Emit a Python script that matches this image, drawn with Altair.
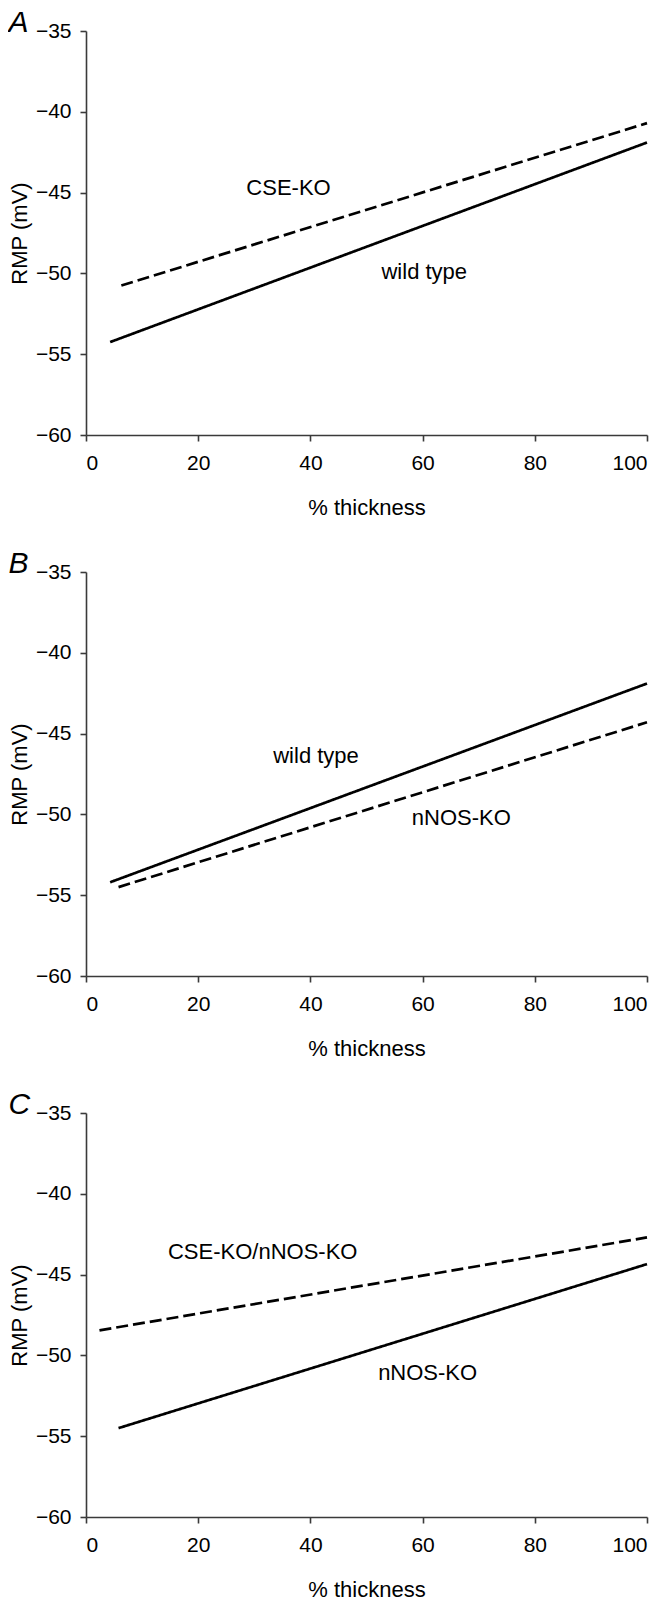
import altair as alt
import pandas as pd

# ---- data ----
panel_letters = ["A", "B", "C"]

# each series: two end points of a straight fitted line (x = % thickness, y = RMP mV)
a_series = ["wild type", "CSE-KO"]
a_x = [[4.3, 100], [6.3, 100]]
a_y = [[-54.25, -41.9], [-50.75, -40.7]]
a_dash = ["solid", "dashed"]
a_label_x = [60.3, 36.1]
a_label_y = [-49.9, -44.7]

b_series = ["wild type", "nNOS-KO"]
b_x = [[4.3, 100], [5.8, 100]]
b_y = [[-54.2, -41.9], [-54.5, -44.3]]
b_dash = ["solid", "dashed"]
b_label_x = [41.0, 66.9]
b_label_y = [-46.4, -50.25]

c_series = ["nNOS-KO", "CSE-KO/nNOS-KO"]
c_x = [[5.8, 100], [2.4, 100]]
c_y = [[-54.5, -44.35], [-48.45, -42.7]]
c_dash = ["solid", "dashed"]
c_label_x = [60.9, 31.5]
c_label_y = [-51.1, -43.6]

x_ticks = [0, 20, 40, 60, 80, 100]
y_ticks = [-60, -55, -50, -45, -40, -35]

FONT = "Liberation Sans"
AX = "#3a3a3a"


def panel(letter, series, xs, ys, dashes, lx, ly):
    rows = []
    for s, xx, yy, d in zip(series, xs, ys, dashes):
        for xv, yv in zip(xx, yy):
            rows.append({"series": s, "x": xv, "y": yv, "style": d})
    lines_df = pd.DataFrame(rows)
    labels_df = pd.DataFrame({"series": series, "x": lx, "y": ly})

    xenc = alt.X("x:Q", scale=alt.Scale(domain=[0, 100], nice=False),
                 axis=alt.Axis(values=x_ticks, title="% thickness", format="d"))
    yenc = alt.Y("y:Q", scale=alt.Scale(domain=[-60, -35], nice=False, zero=False),
                 axis=alt.Axis(values=y_ticks, title="RMP (mV)", format="d"))

    lines = alt.Chart(lines_df).mark_line(strokeWidth=2.7, color="black").encode(
        x=xenc, y=yenc,
        detail="series:N",
        strokeDash=alt.StrokeDash(
            "style:N",
            scale=alt.Scale(domain=["solid", "dashed"], range=[[1, 0], [12, 5]]),
            legend=None,
        ),
    )
    texts = alt.Chart(labels_df).mark_text(
        fontSize=22, font=FONT, color="black", align="center", baseline="middle"
    ).encode(x="x:Q", y="y:Q", text="series:N")

    return alt.layer(lines, texts).properties(
        width=561, height=404,
        title=alt.TitleParams(
            text=letter, anchor="start", frame="bounds", fontStyle="italic",
            fontSize=30, font=FONT, fontWeight="normal", color="black", offset=-18,
        ),
    )


pa = panel(panel_letters[0], a_series, a_x, a_y, a_dash, a_label_x, a_label_y)
pb = panel(panel_letters[1], b_series, b_x, b_y, b_dash, b_label_x, b_label_y)
pc = panel(panel_letters[2], c_series, c_x, c_y, c_dash, c_label_x, c_label_y)

chart = (
    alt.vconcat(pa, pb, pc, spacing=31)
    .properties(padding={"left": 0, "top": 0, "right": 0, "bottom": 0})
    .configure_view(stroke=None)
    .configure_axis(
        grid=False,
        labelFont=FONT, titleFont=FONT,
        labelFontSize=21, titleFontSize=22,
        titleFontWeight="normal",
        labelColor="black", titleColor="black",
        domainColor=AX, tickColor=AX,
        domainWidth=1.6, tickWidth=1.6, tickSize=6,
        labelPadding=11,
    )
    .configure_axisX(titlePadding=24)
    .configure_axisY(titlePadding=4, labelPadding=9)
)

chart.save("out.html", embed_options={"renderer": "svg", "actions": False})
